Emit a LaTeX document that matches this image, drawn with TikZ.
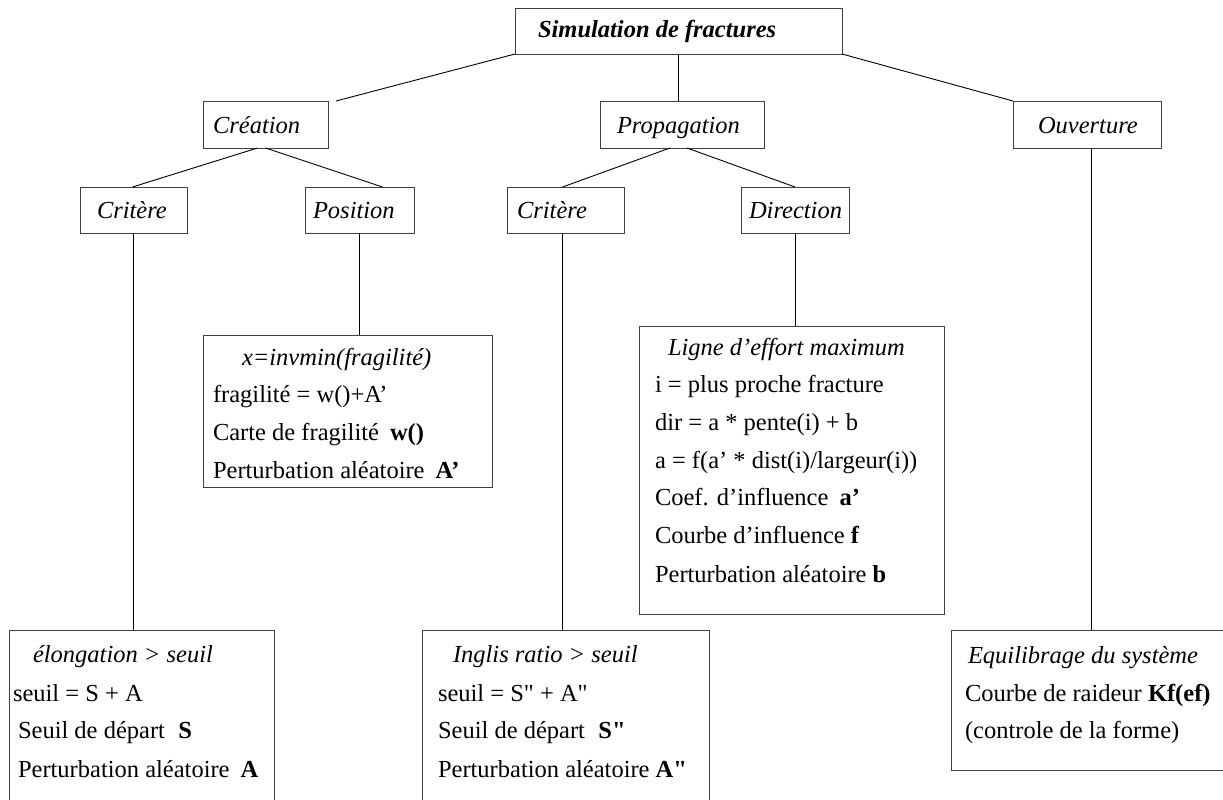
\documentclass[tikz,border=0pt]{standalone}
\usepackage{fontspec}
\setmainfont{Liberation Serif}[Ligatures=TeXOff]
\usetikzlibrary{positioning}
\tikzset{
  box/.style={draw=black!75, line width=0.9pt, anchor=north west, inner sep=0pt, outer sep=0pt},
  txt/.style={anchor=base west, inner sep=0pt, outer sep=0pt, font=\fontsize{24.5}{30}\selectfont},
  conn/.style={draw=black, line width=0.9pt}
}
\begin{document}
\begin{tikzpicture}[x=1pt,y=-1pt]
\clip (0,0) rectangle (1223,800);
\fill[white] (0,0) rectangle (1223,800);
% boxes
\node[box, minimum width=327pt, minimum height=46pt] (top) at (515,8) {};
\node[box, minimum width=125pt, minimum height=47pt] (crea) at (203,101) {};
\node[box, minimum width=164pt, minimum height=47pt] (prop) at (600,101) {};
\node[box, minimum width=148pt, minimum height=47pt] (ouv) at (1013,101) {};
\node[box, minimum width=107pt, minimum height=46pt] (critL) at (80,187) {};
\node[box, minimum width=109pt, minimum height=46pt] (pos) at (305,187) {};
\node[box, minimum width=117pt, minimum height=46pt] (critR) at (507,187) {};
\node[box, minimum width=108pt, minimum height=46pt] (dir) at (741,187) {};
\node[box, minimum width=289pt, minimum height=152pt] (frag) at (203,335) {};
\node[box, minimum width=305pt, minimum height=288pt] (ligne) at (639,326) {};
\node[box, minimum width=265pt, minimum height=200pt] (elong) at (9,630) {};
\node[box, minimum width=287pt, minimum height=200pt] (ingl) at (422,630) {};
\node[box, minimum width=290pt, minimum height=140pt] (equil) at (951,630) {};
% connectors
\draw[conn] (top.south west) -- ([xshift=8pt]crea.north east);
\draw[conn] (top.south) -- (top.south |- prop.north);
\draw[conn] (top.south east) -- (ouv.north west);
\draw[conn] ([xshift=-8pt]crea.south) -- ([xshift=-1pt]critL.north);
\draw[conn] (crea.south) -- ([xshift=23pt]pos.north);
\draw[conn] ([xshift=-12pt]prop.south) -- ([xshift=-3pt]critR.north);
\draw[conn] ([xshift=5pt]prop.south) -- (dir.north);
\draw[conn] (critL.south) -- (critL.south |- elong.north);
\draw[conn] (pos.south) -- (pos.south |- frag.north);
\draw[conn] ([xshift=-3pt]critR.south) -- ([xshift=-3pt]critR.south |- ingl.north);
\draw[conn] (dir.south) -- (dir.south |- ligne.north);
\draw[conn] ([xshift=4pt]ouv.south) -- ([xshift=4pt]ouv.south |- equil.north);
% labels
\node[txt] (ttop) at (538,38) {\textbf{\textit{Simulation de fractures}}};
\node[txt] (tcrea) at (213,133) {\textit{Création}};
\node[txt] (tprop) at (617,133) {\textit{Propagation}};
\node[txt] (touv) at (1038,133) {\textit{Ouverture}};
\node[txt] (tcritL) at (97,218) {\textit{Critère}};
\node[txt] (tpos) at (313,218) {\textit{Position}};
\node[txt] (tcritR) at (517,218) {\textit{Critère}};
\node[txt] (tdir) at (749,218) {\textit{Direction}};
% fragilite box
\node[txt] (f1) at (242,365) {\textit{x=invmin(fragilité)}};
\node[txt] (f2) at (213,402) {fragilité = w()+A’};
\node[txt] (f3) at (213,440) {Carte de fragilité\hspace{0.45em}\textbf{w()}};
\node[txt] (f4) at (213,478) {Perturbation aléatoire\hspace{0.45em}\textbf{A’}};
% ligne box
\node[txt] (l1) at (668,355) {\textit{Ligne d’effort maximum}};
\node[txt] (l2) at (655,392) {i = plus proche fracture};
\node[txt] (l3) at (655,430) {dir = a * pente(i) + b};
\node[txt] (l4) at (655,468) {a = f(a’ * dist(i)/largeur(i))};
\node[txt] (l5) at (655,505) {Coef. d’influence\hspace{0.45em}\textbf{a’}};
\node[txt] (l6) at (655,543) {Courbe d’influence \textbf{f}};
\node[txt] (l7) at (655,582) {Perturbation aléatoire \textbf{b}};
% elongation box
\node[txt] (e1) at (33,662) {\textit{élongation > seuil}};
\node[txt] (e2) at (13,701) {seuil = S + A};
\node[txt] (e3) at (18,738) {Seuil de départ\hspace{0.55em}\textbf{S}};
\node[txt] (e4) at (18,777) {Perturbation aléatoire\hspace{0.45em}\textbf{A}};
% inglis box
\node[txt] (i1) at (453,662) {\textit{Inglis ratio > seuil}};
\node[txt] (i2) at (438,701) {seuil = S" + A"};
\node[txt] (i3) at (438,738) {Seuil de départ\hspace{0.55em}\textbf{S"}};
\node[txt] (i4) at (438,777) {Perturbation aléatoire \textbf{A"}};
% equilibrage box
\node[txt] (q1) at (968,663) {\textit{Equilibrage du système}};
\node[txt] (q2) at (965,701) {Courbe de raideur \textbf{Kf(ef)}};
\node[txt] (q3) at (965,738) {(controle de la forme)};
\end{tikzpicture}
\end{document}
